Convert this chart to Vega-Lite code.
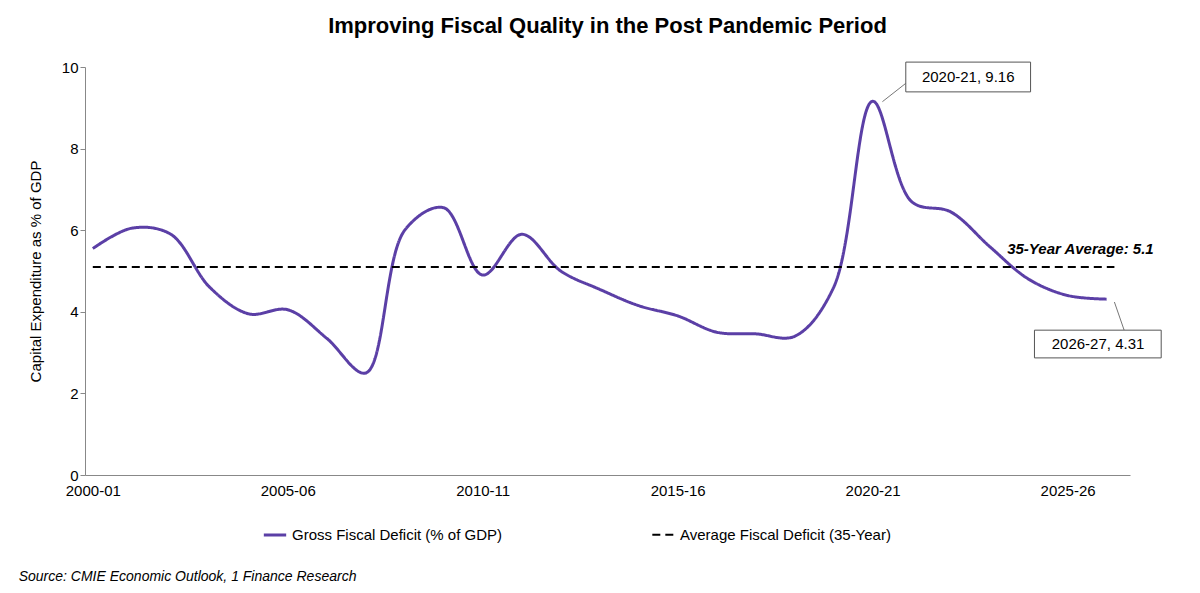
{
  "$schema": "https://vega.github.io/schema/vega-lite/v6.json",
  "autosize": "none",
  "width": 1045,
  "height": 408,
  "padding": {"left": 85, "top": 67, "right": 70, "bottom": 118},
  "background": "white",
  "title": {"text": "Improving Fiscal Quality in the Post Pandemic Period", "fontSize": 22, "font": "Liberation Sans", "fontWeight": "bold", "offset": 22, "anchor": "middle", "color": "black"},
  "config": {"view": {"stroke": null}, "font": "Liberation Sans"},
  "datasets": {
    "series": [
      {"i": 0, "year": "2000-01", "v": 5.55, "s": "Gross Fiscal Deficit (% of GDP)"},
      {"i": 1, "year": "2001-02", "v": 6.05, "s": "Gross Fiscal Deficit (% of GDP)"},
      {"i": 2, "year": "2002-03", "v": 5.9, "s": "Gross Fiscal Deficit (% of GDP)"},
      {"i": 3, "year": "2003-04", "v": 4.6, "s": "Gross Fiscal Deficit (% of GDP)"},
      {"i": 4, "year": "2004-05", "v": 3.95, "s": "Gross Fiscal Deficit (% of GDP)"},
      {"i": 5, "year": "2005-06", "v": 4.05, "s": "Gross Fiscal Deficit (% of GDP)"},
      {"i": 6, "year": "2006-07", "v": 3.35, "s": "Gross Fiscal Deficit (% of GDP)"},
      {"i": 7, "year": "2007-08", "v": 2.5, "s": "Gross Fiscal Deficit (% of GDP)"},
      {"i": 8, "year": "2008-09", "v": 6.0, "s": "Gross Fiscal Deficit (% of GDP)"},
      {"i": 9, "year": "2009-10", "v": 6.55, "s": "Gross Fiscal Deficit (% of GDP)"},
      {"i": 10, "year": "2010-11", "v": 4.9, "s": "Gross Fiscal Deficit (% of GDP)"},
      {"i": 11, "year": "2011-12", "v": 5.9, "s": "Gross Fiscal Deficit (% of GDP)"},
      {"i": 12, "year": "2012-13", "v": 5.0, "s": "Gross Fiscal Deficit (% of GDP)"},
      {"i": 13, "year": "2013-14", "v": 4.55, "s": "Gross Fiscal Deficit (% of GDP)"},
      {"i": 14, "year": "2014-15", "v": 4.15, "s": "Gross Fiscal Deficit (% of GDP)"},
      {"i": 15, "year": "2015-16", "v": 3.9, "s": "Gross Fiscal Deficit (% of GDP)"},
      {"i": 16, "year": "2016-17", "v": 3.5, "s": "Gross Fiscal Deficit (% of GDP)"},
      {"i": 17, "year": "2017-18", "v": 3.46, "s": "Gross Fiscal Deficit (% of GDP)"},
      {"i": 18, "year": "2018-19", "v": 3.4, "s": "Gross Fiscal Deficit (% of GDP)"},
      {"i": 19, "year": "2019-20", "v": 4.6, "s": "Gross Fiscal Deficit (% of GDP)"},
      {"i": 20, "year": "2020-21", "v": 9.16, "s": "Gross Fiscal Deficit (% of GDP)"},
      {"i": 21, "year": "2021-22", "v": 6.7, "s": "Gross Fiscal Deficit (% of GDP)"},
      {"i": 22, "year": "2022-23", "v": 6.45, "s": "Gross Fiscal Deficit (% of GDP)"},
      {"i": 23, "year": "2023-24", "v": 5.6, "s": "Gross Fiscal Deficit (% of GDP)"},
      {"i": 24, "year": "2024-25", "v": 4.8, "s": "Gross Fiscal Deficit (% of GDP)"},
      {"i": 25, "year": "2025-26", "v": 4.4, "s": "Gross Fiscal Deficit (% of GDP)"},
      {"i": 26, "year": "2026-27", "v": 4.31, "s": "Gross Fiscal Deficit (% of GDP)"},
      {"i": 0, "year": "2000-01", "v": 5.1, "s": "Average Fiscal Deficit (35-Year)"},
      {"i": 26.2, "year": "2026-27", "v": 5.1, "s": "Average Fiscal Deficit (35-Year)"}
    ],
    "boxes": [
      {"x": 20.85, "x2": 24.05, "y": 10.12, "y2": 9.39, "tx": 22.45, "ty": 9.75, "label": "2020-21, 9.16", "lx": 20.25, "ly": 9.15, "lx2": 20.85, "ly2": 9.6},
      {"x": 24.15, "x2": 27.4, "y": 3.55, "y2": 2.87, "tx": 25.78, "ty": 3.21, "label": "2026-27, 4.31", "lx": 26.2, "ly": 4.24, "lx2": 26.45, "ly2": 3.55}
    ],
    "notes": [
      {"x": 23.45, "y": 5.55, "label": "35-Year Average: 5.1", "kind": "avg"},
      {"x": -1.9, "y": -2.5, "label": "Source: CMIE Economic Outlook, 1 Finance Research", "kind": "src"}
    ]
  },
  "layer": [
    {
      "data": {"name": "series"},
      "mark": {"type": "line", "interpolate": "catmull-rom"},
      "encoding": {
        "x": {"field": "i", "type": "quantitative", "scale": {"domain": [-0.2, 26.6], "nice": false, "zero": false},
          "axis": {"values": [0, 5, 10, 15, 20, 25], "labelExpr": "['2000-01','2005-06','2010-11','2015-16','2020-21','2025-26'][datum.value/5]", "title": null, "grid": false, "ticks": false, "domainColor": "#888", "labelFontSize": 15, "labelColor": "black", "labelPadding": 8}},
        "y": {"field": "v", "type": "quantitative", "scale": {"domain": [0, 10], "nice": false},
          "axis": {"values": [0, 2, 4, 6, 8, 10], "title": "Capital Expenditure as % of GDP", "titleFontSize": 15, "titleFontWeight": "normal", "titleColor": "black", "titlePadding": 18, "grid": false, "tickColor": "#888", "domainColor": "#888", "labelFontSize": 15, "labelColor": "black"}},
        "color": {"field": "s", "type": "nominal", "scale": {"domain": ["Gross Fiscal Deficit (% of GDP)", "Average Fiscal Deficit (35-Year)"], "range": ["#5b3fa6", "black"]},
          "legend": {"title": null, "orient": "none", "legendX": 177, "legendY": 455, "direction": "horizontal", "symbolType": "stroke", "symbolSize": 500, "symbolStrokeWidth": 2.5, "labelFontSize": 15, "labelColor": "black", "labelLimit": 400, "columnPadding": 145}},
        "strokeDash": {"field": "s", "type": "nominal", "scale": {"domain": ["Gross Fiscal Deficit (% of GDP)", "Average Fiscal Deficit (35-Year)"], "range": [[1, 0], [8, 5]]}, "legend": null},
        "strokeWidth": {"field": "s", "type": "nominal", "scale": {"domain": ["Gross Fiscal Deficit (% of GDP)", "Average Fiscal Deficit (35-Year)"], "range": [3, 2]}, "legend": null}
      }
    },
    {
      "data": {"name": "boxes"},
      "mark": {"type": "rule", "color": "#777", "strokeWidth": 1, "clip": false},
      "encoding": {"x": {"field": "lx", "type": "quantitative"}, "y": {"field": "ly", "type": "quantitative"}, "x2": {"field": "lx2"}, "y2": {"field": "ly2"}}
    },
    {
      "data": {"name": "boxes"},
      "mark": {"type": "rect", "fill": "white", "stroke": "#555", "strokeWidth": 1, "clip": false},
      "encoding": {"x": {"field": "x", "type": "quantitative"}, "x2": {"field": "x2"}, "y": {"field": "y", "type": "quantitative"}, "y2": {"field": "y2"}}
    },
    {
      "data": {"name": "boxes"},
      "mark": {"type": "text", "fontSize": 15, "color": "black"},
      "encoding": {"x": {"field": "tx", "type": "quantitative"}, "y": {"field": "ty", "type": "quantitative"}, "text": {"field": "label"}}
    },
    {
      "data": {"name": "notes"},
      "transform": [{"filter": "datum.kind == 'avg'"}],
      "mark": {"type": "text", "fontSize": 15, "fontWeight": "bold", "fontStyle": "italic", "color": "black", "align": "left"},
      "encoding": {"x": {"field": "x", "type": "quantitative"}, "y": {"field": "y", "type": "quantitative"}, "text": {"field": "label"}}
    },
    {
      "data": {"name": "notes"},
      "transform": [{"filter": "datum.kind == 'src'"}],
      "mark": {"type": "text", "fontSize": 14, "fontStyle": "italic", "color": "black", "align": "left", "clip": false},
      "encoding": {"x": {"field": "x", "type": "quantitative"}, "y": {"field": "y", "type": "quantitative"}, "text": {"field": "label"}}
    }
  ]
}
